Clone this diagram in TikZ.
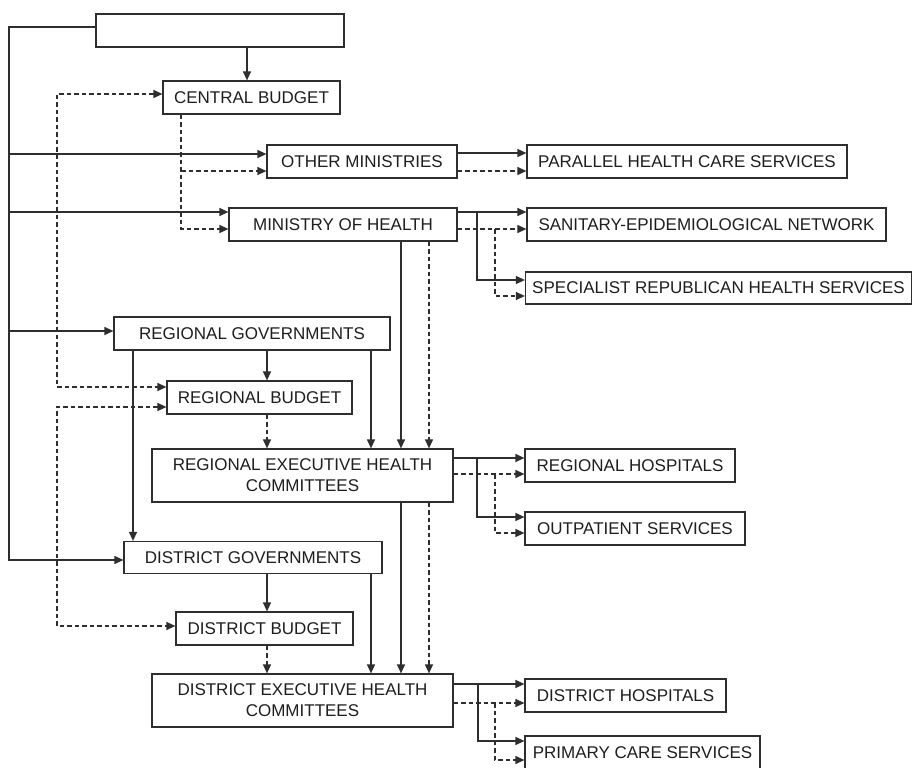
\documentclass[tikz,border=0pt]{standalone}
\usepackage{fontspec}
\setmainfont{Liberation Sans}
\usetikzlibrary{arrows.meta}
\definecolor{linec}{HTML}{2E2E2E}
\definecolor{textc}{HTML}{1E1E1E}
\tikzset{
  box/.style={draw=linec, line width=1.2pt, inner sep=0pt, align=center,
    font=\fontsize{17}{21}\selectfont, text=textc},
  conn/.style={draw=linec, line width=1.2pt},
  sarr/.style={conn, -{Triangle[length=9pt,width=8pt]}},
  darr/.style={sarr, dash pattern=on 4.5pt off 3pt},
  dboth/.style={conn, dash pattern=on 4.5pt off 3pt, {Triangle[length=9pt,width=8pt]}-{Triangle[length=9pt,width=8pt]}}
}
\begin{document}
\begin{tikzpicture}[x=1pt,y=-1pt]
\useasboundingbox[fill=white] (0,0) rectangle (916,768);
% boxes
\node[box, minimum width=248pt, minimum height=33pt] (top) at (220,30.5) {};
\node[box, minimum width=177pt, minimum height=33pt] (cb) at (251.5,97.5) {CENTRAL BUDGET};
\node[box, minimum width=190pt, minimum height=33pt] (om) at (362,161.5) {OTHER MINISTRIES};
\node[box, minimum width=228pt, minimum height=33pt] (moh) at (343,224.5) {MINISTRY OF HEALTH};
\node[box, minimum width=320pt, minimum height=33pt] (par) at (687,161.5) {PARALLEL HEALTH CARE SERVICES};
\node[box, minimum width=359pt, minimum height=33pt] (san) at (706.5,224.5) {SANITARY-EPIDEMIOLOGICAL NETWORK};
\node[box, minimum width=386pt, minimum height=32pt] (spec) at (718.5,288) {SPECIALIST REPUBLICAN HEALTH SERVICES};
\node[box, minimum width=276pt, minimum height=33pt] (rg) at (252,333.5) {REGIONAL GOVERNMENTS};
\node[box, minimum width=185pt, minimum height=33pt] (rb) at (259.5,397.5) {REGIONAL BUDGET};
\node[box, minimum width=301pt, minimum height=53pt] (re) at (302.5,475.5) {REGIONAL EXECUTIVE HEALTH\\COMMITTEES};
\node[box, minimum width=210pt, minimum height=33pt] (rh) at (630,465.5) {REGIONAL HOSPITALS};
\node[box, minimum width=220pt, minimum height=33pt] (op) at (635,528.5) {OUTPATIENT SERVICES};
\node[box, minimum width=258pt, minimum height=32pt] (dg) at (253,557.5) {DISTRICT GOVERNMENTS};
\node[box, minimum width=177pt, minimum height=33pt] (db) at (264.5,628.5) {DISTRICT BUDGET};
\node[box, minimum width=301pt, minimum height=53pt] (de) at (302.5,700.5) {DISTRICT EXECUTIVE HEALTH\\COMMITTEES};
\node[box, minimum width=201pt, minimum height=33pt] (dh) at (625.5,695.5) {DISTRICT HOSPITALS};
\node[box, minimum width=235pt, minimum height=33pt] (pc) at (642.5,752.5) {PRIMARY CARE SERVICES};
% left solid trunk
\coordinate (tk1) at (9,27);
\coordinate (tk2) at (9,560);
\draw[sarr] (top.west |- tk1) -- (tk1) -- (tk2) -- (dg.west |- tk2);
\draw[sarr] (9,154) -- (om.west |- 0,154);
\draw[sarr] (9,212) -- (moh.west |- 0,212);
\draw[sarr] (9,331) -- (rg.west |- 0,331);
% top -> central budget
\draw[sarr] (top.south -| 247,0) -- (cb.north -| 247,0);
% left dashed trunks
\draw[dboth] (cb.west |- 0,94) -| (57,387) -- (rb.west |- 0,387);
\draw[dboth] (rb.west |- 0,407) -| (57,626) -- (db.west |- 0,626);
% central budget dashed
\draw[darr] (cb.south -| 181,0) -- (181,229) -- (moh.west |- 0,229);
\draw[darr] (181,171) -- (om.west |- 0,171);
% other ministries -> parallel
\draw[sarr] (om.east |- 0,153) -- (par.west |- 0,153);
\draw[darr] (om.east |- 0,171) -- (par.west |- 0,171);
% ministry of health -> right
\draw[sarr] (moh.east |- 0,212) -- (san.west |- 0,212);
\draw[darr] (moh.east |- 0,229) -- (san.west |- 0,229);
\draw[sarr] (477,212) -- (477,280) -- (spec.west |- 0,280);
\draw[darr] (495,229) -- (495,296) -- (spec.west |- 0,296);
% ministry of health -> regional exec
\draw[sarr] (moh.south -| 401,0) -- (re.north -| 401,0);
\draw[darr] (moh.south -| 429,0) -- (re.north -| 429,0);
% regional governments
\draw[sarr] (rg.south -| 267,0) -- (rb.north -| 267,0);
\draw[sarr] (rg.south -| 133,0) -- (dg.north -| 133,0);
\draw[sarr] (rg.south -| 371,0) -- (re.north -| 371,0);
\draw[darr] (rb.south -| 267,0) -- (re.north -| 267,0);
% regional exec -> right
\draw[sarr] (re.east |- 0,458) -- (rh.west |- 0,458);
\draw[darr] (re.east |- 0,474) -- (rh.west |- 0,474);
\draw[sarr] (477,458) -- (477,517) -- (op.west |- 0,517);
\draw[darr] (495,474) -- (495,533) -- (op.west |- 0,533);
% regional exec -> district exec
\draw[sarr] (re.south -| 401,0) -- (de.north -| 401,0);
\draw[darr] (re.south -| 429,0) -- (de.north -| 429,0);
% district governments
\draw[sarr] (dg.south -| 267,0) -- (db.north -| 267,0);
\draw[sarr] (dg.south -| 371,0) -- (de.north -| 371,0);
\draw[darr] (db.south -| 267,0) -- (de.north -| 267,0);
% district exec -> right
\draw[sarr] (de.east |- 0,684) -- (dh.west |- 0,684);
\draw[darr] (de.east |- 0,703) -- (dh.west |- 0,703);
\draw[sarr] (478,684) -- (478,741) -- (pc.west |- 0,741);
\draw[darr] (495,703) -- (495,760) -- (pc.west |- 0,760);
\end{tikzpicture}
\end{document}
